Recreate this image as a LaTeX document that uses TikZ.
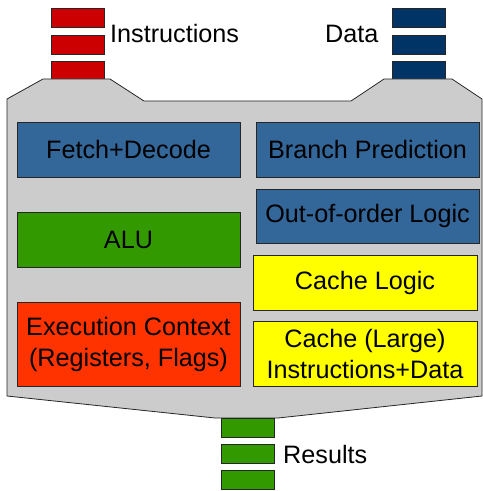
\documentclass[tikz,border=0pt]{standalone}
\usepackage{fontspec}
\setmainfont{Liberation Sans}
\definecolor{cpugray}{HTML}{CCCCCC}
\definecolor{boxblue}{HTML}{336699}
\definecolor{boxgreen}{HTML}{339900}
\definecolor{boxred}{HTML}{FF3300}
\definecolor{boxyellow}{HTML}{FFFF00}
\definecolor{instred}{HTML}{CC0000}
\definecolor{datablue}{HTML}{003366}
\tikzset{
  unit/.style={draw=black!85, line width=0.8bp, inner sep=0pt, align=center,
    font=\fontsize{25.2bp}{31bp}\selectfont},
  blk/.style={draw=black!85, line width=0.8bp, inner sep=0pt, minimum width=53bp, minimum height=19bp},
  lbl/.style={inner sep=0pt, anchor=base west, font=\fontsize{25.2bp}{31bp}\selectfont}
}
\begin{document}
\begin{tikzpicture}[x=1bp,y=-1bp]
\useasboundingbox (0,0) rectangle (483,491);
% stacks
\node[blk, fill=instred, anchor=north west] (i1) at (51,8) {};
\node[blk, fill=instred, anchor=north west] (i2) at (51,35) {};
\node[blk, fill=instred, anchor=north west] (i3) at (51,61) {};
\node[blk, fill=datablue, anchor=north west] (d1) at (392,8) {};
\node[blk, fill=datablue, anchor=north west] (d2) at (392,35) {};
\node[blk, fill=datablue, anchor=north west] (d3) at (392,61) {};
% cpu body
\draw[draw=black!85, line width=0.8bp, fill=cpugray]
  (7,99) -- (43,79) -- (110,79) -- (144,101) -- (351,101) -- (384,79) -- (452,79)
  -- (482,99) -- (482,396) -- (278,418) -- (215,418) -- (7,396) -- cycle;
\node[blk, fill=boxgreen, anchor=north west] (r1) at (221,418) {};
\node[blk, fill=boxgreen, anchor=north west] (r2) at (221,444) {};
\node[blk, fill=boxgreen, anchor=north west] (r3) at (221,470) {};
% labels
\node[lbl] (tinst) at (110,43) {Instructions};
\node[lbl] (tdata) at (325,43) {Data};
\node[lbl] (tres) at (283,463) {Results};
% units
\node[unit, fill=boxblue, minimum width=223bp, minimum height=55bp] (fd) at (128.5,149.5) {Fetch+Decode};
\node[unit, fill=boxgreen, minimum width=223bp, minimum height=55bp] (alu) at (128.5,239.5) {ALU};
\node[unit, fill=boxred, minimum width=223bp, minimum height=84bp] (ec) at (128.5,344) {Execution Context\\(Registers, Flags)};
\node[unit, fill=boxblue, minimum width=223bp, minimum height=55bp] (bp) at (367.5,149.5) {Branch Prediction};
\node[unit, fill=boxblue, minimum width=223bp, minimum height=54bp] (ooo) at (367.5,216) {Out-of-order Logic};
\node[unit, fill=boxyellow, minimum width=224bp, minimum height=55bp] (cl) at (365,282.5) {Cache Logic};
\node[unit, fill=boxyellow, minimum width=224bp, minimum height=65bp] (cache) at (365,353.5) {Cache (Large)\\Instructions+Data};
\end{tikzpicture}
\end{document}
